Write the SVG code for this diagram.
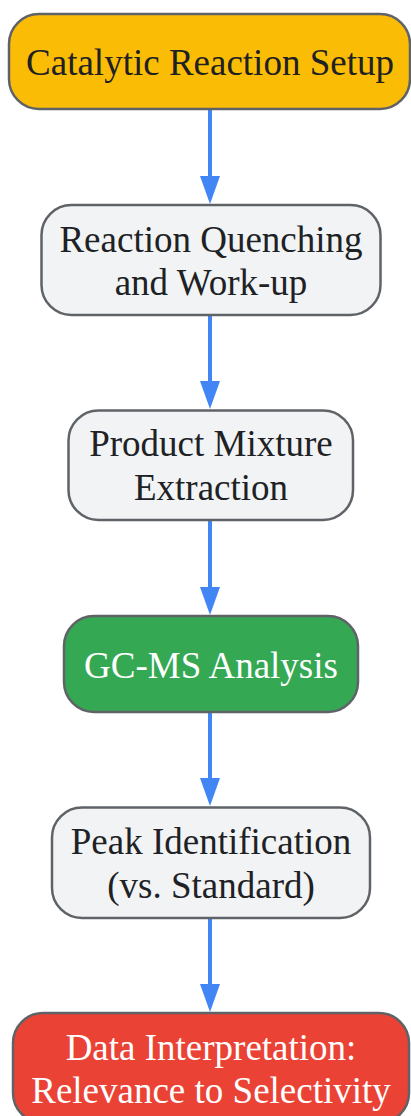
<svg xmlns="http://www.w3.org/2000/svg" width="411" height="1116" viewBox="0 0 411 1116">
<defs>
<style>
.box{stroke:#5f6368;stroke-width:2.5}
.t{font-family:"Liberation Serif","Times New Roman",serif;font-size:37px;text-anchor:middle;fill:#202124}
.w{fill:#ffffff}
.edge{stroke:#4285f4;stroke-width:4;fill:none}
</style>
<marker id="ah" markerUnits="userSpaceOnUse" markerWidth="28" markerHeight="20" refX="0" refY="10" orient="auto" viewBox="0 0 28 20">
<path d="M0,0 L28,10 L0,20 Z" fill="#4285f4"/>
</marker>
</defs>
<g id="edges">
<line class="edge" x1="210" y1="109" x2="210" y2="176" marker-end="url(#ah)"/>
<line class="edge" x1="210" y1="315" x2="210" y2="381" marker-end="url(#ah)"/>
<line class="edge" x1="210" y1="520" x2="210" y2="587" marker-end="url(#ah)"/>
<line class="edge" x1="210" y1="712" x2="210" y2="778" marker-end="url(#ah)"/>
<line class="edge" x1="210" y1="918" x2="210" y2="984" marker-end="url(#ah)"/>
</g>
<g id="n1">
<rect class="box" x="9" y="14" width="401" height="95" rx="30" fill="#fbbc05"/>
<text class="t" x="210" y="75">Catalytic Reaction Setup</text>
</g>
<g id="n2">
<rect class="box" x="41.5" y="205" width="339" height="110" rx="30" fill="#f1f3f4"/>
<text class="t" x="211" y="252">Reaction Quenching</text>
<text class="t" x="211" y="295">and Work-up</text>
</g>
<g id="n3">
<rect class="box" x="68.5" y="410.5" width="284.5" height="109.5" rx="30" fill="#f1f3f4"/>
<text class="t" x="211" y="456">Product Mixture</text>
<text class="t" x="211" y="500">Extraction</text>
</g>
<g id="n4">
<rect class="box" x="64" y="616" width="294" height="96" rx="30" fill="#34a853"/>
<text class="t w" x="211" y="678">GC-MS Analysis</text>
</g>
<g id="n5">
<rect class="box" x="52" y="807.5" width="318" height="110.5" rx="30" fill="#f1f3f4"/>
<text class="t" x="211" y="854">Peak Identification</text>
<text class="t" x="211" y="898">(vs. Standard)</text>
</g>
<g id="n6">
<rect class="box" x="13" y="1013" width="396" height="110" rx="30" fill="#ea4335"/>
<text class="t w" x="211" y="1060">Data Interpretation:</text>
<text class="t w" x="211" y="1103">Relevance to Selectivity</text>
</g>
</svg>
